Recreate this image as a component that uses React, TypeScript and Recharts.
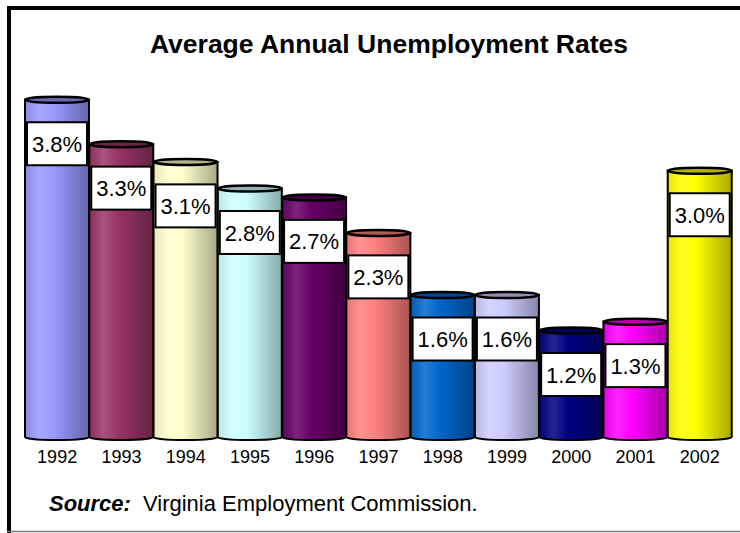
import React from 'react';
import { BarChart, Bar, XAxis, YAxis, LabelList } from 'recharts';

const years = ['1992', '1993', '1994', '1995', '1996', '1997', '1998', '1999', '2000', '2001', '2002'];
const rates = [3.8, 3.3, 3.1, 2.8, 2.7, 2.3, 1.6, 1.6, 1.2, 1.3, 3.0];
const barColors = [
  '#9999FF', '#993366', '#FFFFCC', '#CCFFFF', '#660066', '#FF8080',
  '#0066CC', '#CCCCFF', '#000080', '#FF00FF', '#FFFF00',
];

const data = years.map((year, i) => ({ year, rate: rates[i] }));

const FONT = "Arial, 'Liberation Sans', sans-serif";

function mix(hex: string, factor: number, toward = 0) {
  const n = parseInt(hex.slice(1), 16);
  const ch = [(n >> 16) & 255, (n >> 8) & 255, n & 255].map((c) =>
    Math.round(c * factor + toward * (1 - factor))
  );
  return `rgb(${ch[0]},${ch[1]},${ch[2]})`;
}

function Cylinder(props: any) {
  const { x, y, width, height, index } = props;
  const base = barColors[index];
  const id = `cyl-${index}`;
  const ry = 3;
  const bottom = y + height;
  return (
    <g>
      <defs>
        <linearGradient id={id} x1="0" y1="0" x2="1" y2="0">
          <stop offset="0%" stopColor={mix(base, 0.9)} />
          <stop offset="22%" stopColor={mix(base, 0.85, 255)} />
          <stop offset="45%" stopColor={base} />
          <stop offset="100%" stopColor={mix(base, 0.66)} />
        </linearGradient>
      </defs>
      <path
        d={`M${x},${y} L${x},${bottom} A${width / 2},${ry} 0 0 0 ${x + width},${bottom} L${x + width},${y} Z`}
        fill={`url(#${id})`}
        stroke="#000"
        strokeWidth={2}
      />
      <ellipse
        cx={x + width / 2}
        cy={y}
        rx={width / 2}
        ry={ry}
        fill={mix(base, 0.7)}
        stroke="#000"
        strokeWidth={2.5}
      />
    </g>
  );
}

function RateLabel(props: any) {
  const { x, y, width, value } = props;
  const cx = x + width / 2;
  const cy = y + 44;
  return (
    <g>
      <rect x={cx - 30} y={cy - 21.5} width={60} height={43} fill="#fff" stroke="#000" strokeWidth={2} />
      <text x={cx} y={cy + 8} textAnchor="middle" fontSize={22} fontFamily={FONT} fill="#000">
        {`${Number(value).toFixed(1)}%`}
      </text>
    </g>
  );
}

function YearTick(props: any) {
  const { x, y, payload } = props;
  return (
    <text x={x} y={y + 26} textAnchor="middle" fontSize={18} fontFamily={FONT} fill="#000">
      {payload.value}
    </text>
  );
}

export default function App() {
  return (
    <div style={{ position: 'absolute', left: 0, top: 0, width: 740, height: 533, background: '#fff' }}>
      <BarChart
        width={740}
        height={533}
        data={data}
        margin={{ top: 82, right: 8, bottom: 56, left: 25 }}
        barCategoryGap={0}
        barGap={0}
      >
        <XAxis
          dataKey="year"
          axisLine={false}
          tickLine={false}
          tickSize={0}
          tickMargin={0}
          height={40}
          interval={0}
          tick={<YearTick />}
        />
        <YAxis hide domain={[0, 4]} />
        <Bar dataKey="rate" isAnimationActive={false} shape={<Cylinder />}>
          <LabelList dataKey="rate" content={<RateLabel />} />
        </Bar>
      </BarChart>
      <svg
        width={740}
        height={533}
        style={{ position: 'absolute', left: 0, top: 0, pointerEvents: 'none' }}
      >
        <line x1={9} y1={6} x2={9} y2={533} stroke="#000" strokeWidth={4} />
        <line x1={7} y1={8} x2={740} y2={8} stroke="#000" strokeWidth={4} />
        <line x1={7} y1={531.5} x2={740} y2={531.5} stroke="#777" strokeWidth={1.5} />
        <text x={389} y={53} textAnchor="middle" fontSize={26.5} fontWeight="bold" fontFamily={FONT} fill="#000">
          Average Annual Unemployment Rates
        </text>
        <text x={49} y={511} fontSize={22} fontFamily={FONT} fill="#000">
          <tspan fontWeight="bold" fontStyle="italic">Source:</tspan>
          <tspan x={143}>Virginia Employment Commission.</tspan>
        </text>
      </svg>
    </div>
  );
}
